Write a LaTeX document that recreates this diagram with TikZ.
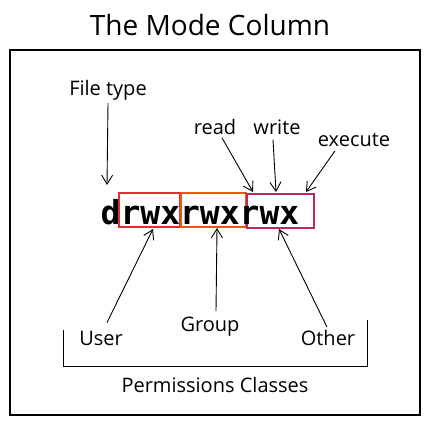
\documentclass[tikz,border=0pt]{standalone}
\usepackage{fontspec}
\setmainfont{Open Sans}
\newfontfamily\modefont{DejaVu Sans Mono}
\usetikzlibrary{arrows.meta,calc}
\definecolor{xred}{HTML}{E03131}
\definecolor{xorange}{HTML}{E8590C}
\definecolor{xpink}{HTML}{C2255C}
\begin{document}
\begin{tikzpicture}[x=1pt,y=-1pt,
  lbl/.style={font=\fontsize{20}{24}\selectfont, inner sep=0pt},
  arr/.style={line width=0.9pt, -{Straight Barb[length=9pt,width=11pt]}},
  permbox/.style={line width=1.4pt, minimum height=34pt, inner sep=0pt},
]
\useasboundingbox (0,0) rectangle (431,426);
\node[font=\fontsize{28}{32}\selectfont, inner sep=0pt] (title) at (210,25) {The Mode Column};
\node[draw, line width=1.2pt, minimum width=410pt, minimum height=365pt, inner sep=0pt] (frame) at (215,232.5) {};

% permission boxes
\node[permbox, draw=xred, minimum width=61pt] (user box) at (149.5,210) {};
\node[permbox, draw=xorange, minimum width=65pt] (group box) at (213.5,210) {};
\node[permbox, draw=xpink, minimum width=67pt] (other box) at (280.5,211) {};
% mode string
\node[font=\modefont\bfseries\fontsize{33}{36}\selectfont, inner sep=0pt] (mode) at (200,212) {drwxrwxrwx};

% labels
\node[lbl] (filetype) at (108,90) {File type};
\node[lbl] (read) at (215,127) {read};
\node[lbl] (write) at (277,127) {write};
\node[lbl] (execute) at (354,140) {execute};
\node[lbl] (user) at (101,338) {User};
\node[lbl] (group) at (210,327) {Group};
\node[lbl] (other) at (328,338) {Other};
\node[lbl] (perm) at (215,385) {Permissions Classes};

% arrow tips
\coordinate (dtip) at (107,185);
\coordinate (readtip) at (253,192);
\coordinate (writetip) at (276,192);
\coordinate (exectip) at (306,192);
\coordinate (usertip) at (153,229);
\coordinate (grouptip) at (217,228);
\coordinate (othertip) at (279,229);

% arrows
\draw[arr] ([yshift=-3pt]filetype.south) -- (dtip);
\draw[arr] ([shift={(7pt,-3pt)}]read.south) -- (readtip);
\draw[arr] ([shift={(-4pt,-5pt)}]write.south) -- (writetip);
\draw[arr] ([shift={(-19pt,-4pt)}]execute.south) -- (exectip);
\draw[arr] ([shift={(6pt,8pt)}]user.north) -- (usertip);
\draw[arr] ([shift={(6pt,6pt)}]group.north) -- (grouptip);
\draw[arr] ([shift={(-1pt,3pt)}]other.north) -- (othertip);

% bracket
\draw[line width=1pt] (63,330) -- (63,366) -- (367,366) -- (367,320);
\end{tikzpicture}
\end{document}
